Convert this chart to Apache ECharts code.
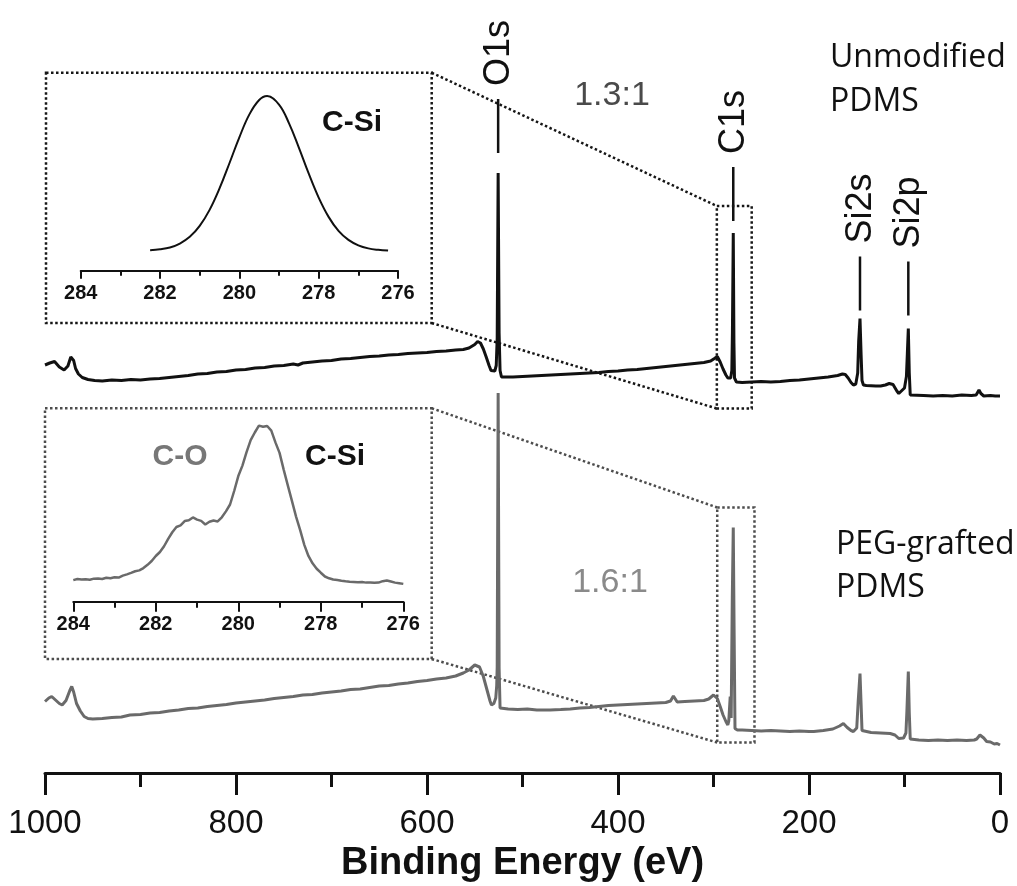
<!DOCTYPE html>
<html>
<head>
<meta charset="utf-8">
<title>XPS survey spectra</title>
<script src="https://cdn.jsdelivr.net/npm/echarts/dist/echarts.min.js"></script>
<style>
  html, body { margin: 0; padding: 0; background: #ffffff; }
  #chart { width: 1017px; height: 886px; }
</style>
</head>
<body>
<div id="chart"></div>
<script>
// ---------- survey spectra: [binding energy (eV), intensity (a.u., offset)] ----------
const unmodifiedSurvey = [
  [1000, 81.6], [995, 82.0], [990, 82.3], [985, 81.2], [980, 80.6], [976, 81.4], [973, 83.2], [971.5, 83.6],
  [970, 82.5], [968, 80.9], [965, 79.8], [961, 79.1], [955, 78.7], [948, 78.5], [940, 78.4], [930, 78.6],
  [920, 78.5], [910, 78.7], [900, 78.6], [890, 78.8], [880, 78.9], [870, 79.1], [860, 79.3], [850, 79.5],
  [840, 79.8], [830, 79.9], [820, 80.2], [810, 80.3], [800, 80.6], [790, 80.7], [780, 81.0], [770, 81.1],
  [760, 81.4], [750, 81.5], [740, 81.8], [735, 81.6], [730, 82.0], [720, 82.2], [710, 82.4], [700, 82.5],
  [690, 82.8], [680, 82.9], [670, 83.1], [660, 83.3], [650, 83.4], [640, 83.6], [630, 83.7], [620, 83.9],
  [610, 84.0], [600, 84.1], [590, 84.3], [580, 84.4], [570, 84.6], [562, 84.7], [556, 85.0], [550, 85.7],
  [547, 86.3], [544, 86.0], [541, 84.8], [538, 83.2], [535, 81.5], [533, 80.5], [531, 80.2], [529, 80.4],
  [527.5, 81.5], [526.5, 87.0], [525.5, 120.0], [524.5, 88.0], [523.5, 80.5], [522, 79.2], [520, 79.3],
  [510, 79.2], [500, 79.3], [490, 79.4], [480, 79.5], [470, 79.6], [460, 79.7], [450, 79.8], [440, 79.9],
  [430, 80.0], [420, 80.1], [410, 80.3], [400, 80.4], [390, 80.6], [380, 80.7], [370, 80.9], [360, 81.1],
  [350, 81.3], [340, 81.5], [330, 81.7], [320, 81.9], [310, 82.1], [303, 82.4], [299, 82.9], [296, 83.3],
  [293, 82.2], [290, 80.8], [287, 79.6], [285, 79.0], [283.5, 79.2], [282, 79.0], [280.8, 80.5],
  [280.2, 88.0], [279.3, 108.0], [278.6, 86.0], [278, 79.0], [276, 78.2], [274, 78.0], [270, 78.1],
  [260, 78.2], [250, 78.3], [240, 78.2], [230, 78.3], [220, 78.5], [210, 78.6], [200, 78.8], [190, 79.0],
  [180, 79.2], [170, 79.5], [165, 79.8], [162, 79.7], [159, 79.0], [156, 78.1], [153.5, 77.6], [151, 77.8],
  [149, 80.0], [148, 86.3], [146.6, 90.9], [145.5, 84.0], [144.5, 78.5], [143, 77.6], [140, 77.5],
  [130, 77.4], [125, 77.4], [120, 77.6], [116, 77.9], [112, 77.7], [108, 76.4], [106, 75.9], [104, 76.2],
  [100, 77.0], [98, 79.3], [97, 84.0], [96, 88.9], [95, 80.0], [94, 75.6], [92, 75.4], [80, 75.5],
  [70, 75.4], [60, 75.5], [50, 75.4], [40, 75.6], [30, 75.5], [25, 75.6], [22, 76.6], [20, 75.9],
  [17, 75.4], [10, 75.5], [5, 75.4], [0, 75.4]
];

const pegSurvey = [
  [1000, 14.3], [996, 15.0], [993, 15.3], [989, 14.6], [985, 13.9], [982, 13.6], [978, 14.5], [974, 16.5],
  [972, 17.3], [970, 16.2], [967, 13.9], [963, 12.4], [959, 11.3], [955, 10.9], [950, 10.8], [940, 10.9],
  [930, 11.1], [920, 11.2], [911, 11.6], [900, 11.7], [890, 12.0], [880, 12.1], [870, 12.4], [860, 12.6],
  [850, 12.9], [840, 13.0], [830, 13.3], [820, 13.5], [810, 13.7], [800, 14.0], [790, 14.2], [780, 14.4],
  [770, 14.6], [760, 14.9], [750, 15.1], [740, 15.3], [730, 15.6], [720, 15.7], [710, 16.0], [700, 16.2],
  [690, 16.4], [680, 16.7], [670, 16.8], [660, 17.1], [650, 17.4], [640, 17.5], [630, 17.8], [620, 18.0],
  [610, 18.3], [600, 18.5], [590, 18.8], [580, 19.0], [570, 19.4], [562, 20.0], [556, 20.6], [550, 21.6],
  [548, 21.9], [545, 21.2], [541, 19.3], [537, 16.5], [534, 14.4], [532.5, 13.6], [530, 13.9], [528, 15.0],
  [527, 17.5], [526.5, 21.2], [525.5, 76.0], [524.5, 21.0], [523.5, 13.0], [521.8, 12.9], [515, 12.8],
  [505, 12.7], [495, 12.8], [485, 12.6], [471, 12.6], [460, 12.7], [450, 12.8], [440, 13.0], [430, 13.1],
  [420, 13.3], [410, 13.5], [400, 13.6], [390, 13.7], [380, 13.8], [370, 13.9], [360, 14.0], [350, 14.1],
  [345, 14.4], [342, 15.4], [338, 14.2], [330, 14.3], [320, 14.4], [310, 14.5], [305, 14.8], [300, 15.6],
  [296, 14.9], [293, 13.3], [290, 11.6], [287, 10.3], [285, 9.6], [284, 10.4], [282.5, 15.3], [281.5, 11.0],
  [280.3, 35.3], [279.3, 49.1], [278.5, 30.0], [277.5, 8.9], [275, 8.6], [270, 8.6], [260, 8.5],
  [250, 8.4], [240, 8.5], [230, 8.4], [220, 8.3], [210, 8.4], [200, 8.3], [195, 8.3], [185, 8.5],
  [175, 8.8], [168, 9.4], [164, 9.9], [160, 9.1], [156, 8.5], [153.5, 8.3], [150, 9.0], [148.5, 14.3],
  [146.6, 19.9], [145.5, 14.0], [144.5, 8.5], [143, 8.3], [135, 8.1], [125, 8.0], [115, 7.9], [110, 7.6],
  [106, 6.9], [104.7, 6.6], [101, 7.0], [98.5, 8.0], [97.5, 12.3], [96, 20.3], [95, 12.0], [94, 6.8],
  [92.5, 6.6], [85, 6.6], [75, 6.5], [65, 6.6], [55, 6.5], [45, 6.6], [35, 6.5], [27, 6.6], [24.4, 6.8],
  [21, 7.6], [19.2, 7.9], [17, 7.0], [14, 6.3], [10, 6.2], [6, 5.8], [3, 5.9], [0, 5.6]
];

// ---------- C1s high-resolution windows ----------
const unmodifiedC1s = [
  [282.25, 11.4], [282.0, 11.9], [281.75, 12.9], [281.5, 15.1], [281.25, 18.8], [281.0, 24.9],
  [280.75, 33.8], [280.5, 45.7], [280.25, 59.7], [280.0, 74.1], [279.75, 86.7], [279.5, 94.8],
  [279.3, 97.0], [279.0, 92.3], [278.75, 82.0], [278.5, 68.4], [278.25, 53.9], [278.0, 40.6],
  [277.75, 29.9], [277.5, 22.1], [277.25, 17.1], [277.0, 14.1], [276.75, 12.4], [276.5, 11.6],
  [276.25, 11.2]
];

const pegC1s = [
  [284.0, 12.0], [283.9, 12.6], [283.8, 12.3], [283.7, 12.5], [283.6, 12.2], [283.5, 12.8], [283.4, 12.9],
  [283.3, 12.6], [283.2, 13.3], [283.1, 13.0], [283.0, 13.6], [282.9, 13.4], [282.8, 14.5], [282.7, 15.2],
  [282.6, 16.0], [282.5, 16.9], [282.4, 17.4], [282.3, 18.7], [282.2, 20.5], [282.1, 22.6], [282.0, 25.4],
  [281.9, 27.6], [281.8, 30.8], [281.7, 34.9], [281.6, 38.6], [281.5, 41.5], [281.4, 42.4], [281.3, 44.8],
  [281.2, 45.2], [281.1, 46.8], [281.0, 45.6], [280.9, 44.9], [280.8, 42.9], [280.7, 44.4], [280.6, 45.1],
  [280.5, 44.6], [280.4, 46.9], [280.3, 50.2], [280.2, 54.0], [280.1, 61.5], [280.0, 69.8], [279.9, 75.6],
  [279.8, 83.1], [279.7, 89.8], [279.6, 94.0], [279.5, 97.8], [279.4, 97.2], [279.3, 97.6], [279.2, 95.0],
  [279.1, 88.5], [279.0, 82.7], [278.9, 73.4], [278.8, 64.6], [278.7, 56.0], [278.6, 47.3], [278.5, 39.8],
  [278.4, 31.6], [278.3, 25.4], [278.2, 21.3], [278.1, 18.3], [278.0, 16.1], [277.9, 14.0], [277.8, 13.0],
  [277.7, 12.3], [277.6, 12.0], [277.5, 11.6], [277.4, 11.3], [277.3, 11.1], [277.2, 11.0], [277.1, 10.8],
  [277.0, 10.9], [276.9, 10.6], [276.8, 10.7], [276.7, 10.5], [276.6, 10.6], [276.5, 11.4], [276.4, 11.8],
  [276.3, 11.2], [276.2, 10.6], [276.1, 10.3], [276.0, 9.9]
];

// ---------- annotations ----------
const peakNames = ['O1s', 'C1s', 'Si2s', 'Si2p'];
const peakEnergies = [525.5, 279.3, 146.6, 96];
const peakHeights = [120.0, 108.0, 90.9, 88.9];

// C1s windows marked on the survey spectra: [E high, E low, I low, I high]
const unmodifiedWindow = [296.5, 260, 72.9, 113.4];
const pegWindow = [296.1, 257.1, 6.1, 53.1];

const ratioLabels = ['1.3:1', '1.6:1'];
const sampleNames = ['Unmodified\nPDMS', 'PEG-grafted\nPDMS'];

// ---------- styling ----------
const INK = '#111111';
const GREY = '#6a6a6a';
const sans = "'Liberation Sans', Arial, Helvetica, sans-serif";
const humanist = "'Open Sans', 'Noto Sans', sans-serif";

// gap (px) between each peak top and its assignment tick
const peakTickGap = [20, 12, 8, 13];

// inset frames (page layout)
const frames = [
  { x1: 46, y1: 72.7, x2: 431.7, y2: 323, color: '#161616' },
  { x1: 45, y1: 408.3, x2: 431.7, y2: 659, color: '#4d4d4d' }
];

const chart = echarts.init(document.getElementById('chart'), null, { renderer: 'canvas' });

function insetAxis(gridIndex, tickLen, minorLen) {
  return {
    type: 'value', gridIndex: gridIndex, min: 276, max: 284, interval: 2, inverse: true,
    axisLine: { show: true, onZero: false, lineStyle: { color: INK, width: 2 } },
    axisTick: { show: true, length: tickLen, lineStyle: { color: INK, width: 2 } },
    minorTick: { show: true, splitNumber: 2, length: minorLen, lineStyle: { color: INK, width: 2 } },
    splitLine: { show: false }, minorSplitLine: { show: false },
    axisLabel: { fontFamily: sans, fontWeight: 'bold', fontSize: 20, color: INK, margin: 13 }
  };
}

function windowArea(w, color) {
  return {
    silent: true,
    itemStyle: { color: 'rgba(0,0,0,0)', borderColor: color, borderWidth: 2.5, borderType: [2.5, 2.5] },
    data: [[{ coord: [w[0], w[3]] }, { coord: [w[1], w[2]] }]]
  };
}

const option = {
  animation: false,
  backgroundColor: '#ffffff',
  grid: [
    { left: 45, right: 17, top: 73, bottom: 113, outerBoundsMode: 'none', containLabel: false },
    { left: 80.7, right: 619, top: 90.7, bottom: 615.3, outerBoundsMode: 'none', containLabel: false },
    { left: 73.3, right: 613.7, top: 421.7, bottom: 284.3, outerBoundsMode: 'none', containLabel: false }
  ],
  xAxis: [
    {
      type: 'value', gridIndex: 0, min: 0, max: 1000, interval: 200, inverse: true,
      name: 'Binding Energy (eV)', nameLocation: 'middle', nameGap: 70,
      nameTextStyle: { fontFamily: sans, fontWeight: 'bold', fontSize: 38, color: INK },
      axisLine: { show: true, onZero: false, lineStyle: { color: INK, width: 3 } },
      axisTick: { show: true, length: 22, lineStyle: { color: INK, width: 3 } },
      minorTick: { show: true, splitNumber: 2, length: 14, lineStyle: { color: INK, width: 3 } },
      splitLine: { show: false }, minorSplitLine: { show: false },
      axisLabel: {
        fontFamily: sans, fontSize: 33, color: INK, margin: 34,
        formatter: function (v) { return String(v); }
      }
    },
    insetAxis(1, 8, 5),
    insetAxis(2, 10, 6)
  ],
  yAxis: [
    { type: 'value', gridIndex: 0, min: 0, max: 140, show: false },
    { type: 'value', gridIndex: 1, min: 0, max: 100, show: false },
    { type: 'value', gridIndex: 2, min: 0, max: 100, show: false }
  ],
  series: [
    {
      name: 'Unmodified PDMS', type: 'line', xAxisIndex: 0, yAxisIndex: 0,
      data: unmodifiedSurvey, showSymbol: false, silent: true,
      lineStyle: { color: INK, width: 3 },
      markArea: windowArea(unmodifiedWindow, '#161616')
    },
    {
      name: 'PEG-grafted PDMS', type: 'line', xAxisIndex: 0, yAxisIndex: 0,
      data: pegSurvey, showSymbol: false, silent: true,
      lineStyle: { color: GREY, width: 3 },
      markArea: windowArea(pegWindow, '#4d4d4d')
    },
    {
      name: 'C1s unmodified', type: 'line', xAxisIndex: 1, yAxisIndex: 1,
      data: unmodifiedC1s, showSymbol: false, silent: true, smooth: 0.4,
      lineStyle: { color: INK, width: 2 }
    },
    {
      name: 'C1s PEG-grafted', type: 'line', xAxisIndex: 2, yAxisIndex: 2,
      data: pegC1s, showSymbol: false, silent: true,
      lineStyle: { color: GREY, width: 2.5 }
    }
  ]
};

chart.setOption(option);

// ---------- overlay: frames, connectors, peak labels, captions ----------
const toPx = (e, v) => chart.convertToPixel({ xAxisIndex: 0, yAxisIndex: 0 }, [e, v]);
const dotted = (color) => ({ stroke: color, lineWidth: 2.5, lineDash: [2.5, 2.5] });
const graphics = [];

// inset frames
frames.forEach(function (f) {
  graphics.push({
    type: 'rect', silent: true,
    shape: { x: f.x1, y: f.y1, width: f.x2 - f.x1, height: f.y2 - f.y1 },
    style: Object.assign({ fill: 'none' }, dotted(f.color))
  });
});

// connectors from each inset to its C1s window
[[frames[0], unmodifiedWindow], [frames[1], pegWindow]].forEach(function (pair) {
  const f = pair[0], w = pair[1];
  const top = toPx(w[0], w[3]);
  const bottom = toPx(w[0], w[2]);
  graphics.push({ type: 'line', silent: true, shape: { x1: f.x2, y1: f.y1, x2: top[0], y2: top[1] }, style: dotted(f.color) });
  graphics.push({ type: 'line', silent: true, shape: { x1: f.x2, y1: f.y2, x2: bottom[0], y2: bottom[1] }, style: dotted(f.color) });
});

// peak assignments above the unmodified survey
peakNames.forEach(function (name, i) {
  const p = toPx(peakEnergies[i], peakHeights[i]);
  const yBottom = p[1] - peakTickGap[i];
  const yTop = yBottom - 54;
  graphics.push({ type: 'line', silent: true, shape: { x1: p[0], y1: yBottom, x2: p[0], y2: yTop }, style: { stroke: INK, lineWidth: 2.5 } });
  graphics.push({
    type: 'text', silent: true, x: p[0] + 1, y: yTop - 13, rotation: Math.PI / 2,
    style: { text: name, font: '36px ' + sans, fill: INK, align: 'left', verticalAlign: 'middle' }
  });
});

// intensity ratios
graphics.push({ type: 'text', silent: true, x: 612, y: 96, style: { text: ratioLabels[0], font: '34px ' + sans, fill: '#4a4a4a', align: 'center', verticalAlign: 'middle' } });
graphics.push({ type: 'text', silent: true, x: 610, y: 583, style: { text: ratioLabels[1], font: '34px ' + sans, fill: '#8a8a8a', align: 'center', verticalAlign: 'middle' } });

// sample names
graphics.push({ type: 'text', silent: true, x: 830, y: 80, style: { text: sampleNames[0], font: '32px ' + humanist, fill: INK, align: 'left', verticalAlign: 'middle', lineHeight: 44 } });
graphics.push({ type: 'text', silent: true, x: 836, y: 566, style: { text: sampleNames[1], font: '32px ' + humanist, fill: INK, align: 'left', verticalAlign: 'middle', lineHeight: 43 } });

// component labels in the insets
graphics.push({ type: 'text', silent: true, x: 352, y: 123, style: { text: 'C-Si', font: 'bold 30px ' + sans, fill: INK, align: 'center', verticalAlign: 'middle' } });
graphics.push({ type: 'text', silent: true, x: 180, y: 457, style: { text: 'C-O', font: 'bold 30px ' + sans, fill: '#777777', align: 'center', verticalAlign: 'middle' } });
graphics.push({ type: 'text', silent: true, x: 335, y: 457, style: { text: 'C-Si', font: 'bold 30px ' + sans, fill: INK, align: 'center', verticalAlign: 'middle' } });

chart.setOption({ graphic: graphics });
</script>
</body>
</html>
